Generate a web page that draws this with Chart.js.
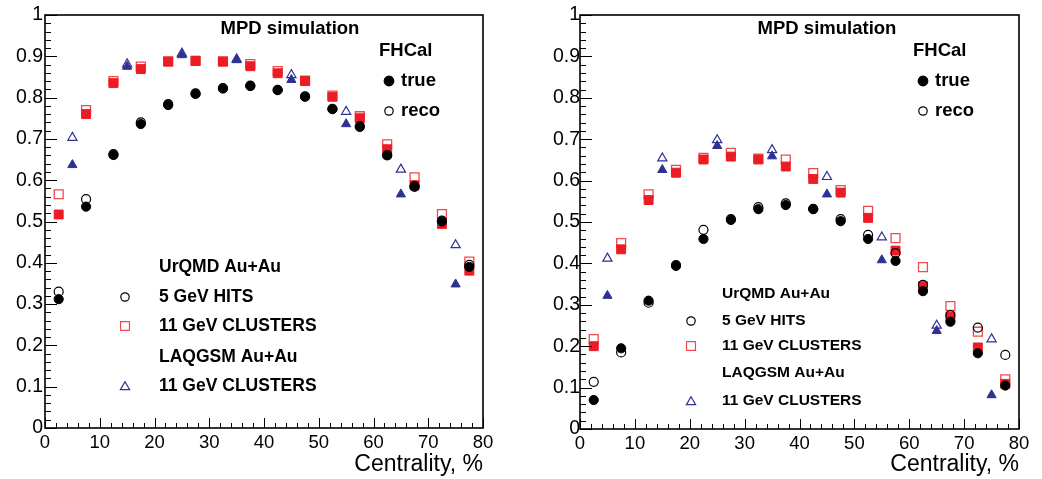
<!DOCTYPE html>
<html>
<head>
<meta charset="utf-8">
<script src="https://cdn.jsdelivr.net/npm/chart.js@4"></script>
<style>
  html, body { margin: 0; padding: 0; background: #fff; }
  body { width: 1042px; height: 479px; position: relative; overflow: hidden; }
  canvas { position: absolute; top: 0; }
  #left { left: 0; }
  #right { left: 520px; }
</style>
</head>
<body>
<canvas id="left" width="520" height="479"></canvas>
<canvas id="right" width="522" height="479"></canvas>
<script>
// centrality bins
const xHits = [2.5, 7.5, 12.5, 17.5, 22.5, 27.5, 32.5, 37.5, 42.5, 47.5, 52.5, 57.5, 62.5, 67.5, 72.5, 77.5];
const xLaq = [5, 15, 25, 35, 45, 55, 65, 75];

// left panel
const leftHitsTrue = [0.312, 0.536, 0.661, 0.736, 0.782, 0.809, 0.822, 0.828, 0.818, 0.802, 0.772, 0.729, 0.661, 0.586, 0.500, 0.390];
const leftHitsReco = [0.330, 0.554, 0.663, 0.740, 0.784, 0.810, 0.823, 0.829, 0.819, 0.803, 0.773, 0.731, 0.660, 0.584, 0.502, 0.395];
const leftClusTrue = [0.517, 0.760, 0.835, 0.869, 0.887, 0.889, 0.887, 0.876, 0.859, 0.840, 0.802, 0.750, 0.675, 0.588, 0.494, 0.381];
const leftClusReco = [0.566, 0.770, 0.840, 0.875, 0.888, 0.889, 0.888, 0.881, 0.864, 0.841, 0.805, 0.755, 0.687, 0.607, 0.518, 0.403];
const leftLaqTrue = [0.637, 0.875, 0.903, 0.891, 0.843, 0.736, 0.566, 0.348];
const leftLaqReco = [0.703, 0.881, 0.907, 0.893, 0.855, 0.766, 0.626, 0.443];

// right panel
const rightHitsTrue = [0.070, 0.195, 0.310, 0.394, 0.459, 0.505, 0.531, 0.541, 0.531, 0.502, 0.459, 0.406, 0.333, 0.259, 0.183, 0.105];
const rightHitsReco = [0.114, 0.185, 0.305, 0.396, 0.481, 0.507, 0.536, 0.545, 0.532, 0.507, 0.469, 0.425, 0.348, 0.275, 0.245, 0.179];
const rightClusTrue = [0.200, 0.434, 0.553, 0.619, 0.651, 0.658, 0.651, 0.634, 0.604, 0.571, 0.510, 0.431, 0.345, 0.271, 0.197, 0.109];
const rightClusReco = [0.217, 0.449, 0.567, 0.626, 0.655, 0.667, 0.653, 0.651, 0.618, 0.577, 0.527, 0.461, 0.391, 0.297, 0.235, 0.120];
const rightLaqTrue = [0.322, 0.626, 0.684, 0.659, 0.567, 0.408, 0.237, 0.082];
const rightLaqReco = [0.412, 0.654, 0.698, 0.674, 0.609, 0.463, 0.250, 0.217];

const legendRows = ['UrQMD Au+Au', '5 GeV HITS', '11 GeV CLUSTERS', 'LAQGSM Au+Au', '11 GeV CLUSTERS'];

const RED = '#ed1c24';
const RED_OPEN = '#ef4a4f';
const BLUE = '#2e3192';
const FONT = '"Liberation Sans", Arial, Helvetica, sans-serif';

function pts(xs, ys) {
  return xs.map((x, i) => ({ x: x, y: ys[i] }));
}

// ROOT-like frame with inward ticks on left and bottom axes
const frameTicks = {
  id: 'frameTicks',
  afterDraw(chart) {
    const { ctx, chartArea: a, scales: { x, y } } = chart;
    ctx.save();
    ctx.strokeStyle = '#000';
    ctx.lineWidth = 1;
    ctx.beginPath();
    for (let i = 0; i <= 50; i++) {
      const py = Math.round(y.getPixelForValue(i * 0.02)) + 0.5;
      const len = i % 5 === 0 ? 12 : 6;
      ctx.moveTo(a.left, py);
      ctx.lineTo(a.left + len, py);
    }
    for (let i = 0; i <= 40; i++) {
      const px = Math.round(x.getPixelForValue(i * 2)) + 0.5;
      const len = i % 5 === 0 ? 10 : 5;
      ctx.moveTo(px, a.bottom);
      ctx.lineTo(px, a.bottom - len);
    }
    ctx.stroke();
    ctx.lineWidth = 1.6;
    ctx.strokeRect(a.left, a.top, a.right - a.left, a.bottom - a.top);
    ctx.restore();
  }
};

function marker(ctx, style, x, y, r, fill, stroke) {
  const opts = { pointStyle: style, radius: r, borderWidth: 1.2, rotation: 0 };
  ctx.save();
  ctx.fillStyle = fill || 'rgba(0,0,0,0)';
  ctx.strokeStyle = stroke;
  ctx.lineWidth = 1.2;
  Chart.helpers.drawPoint(ctx, opts, x, y);
  ctx.restore();
}

// annotation texts and legend entries
const annotations = {
  id: 'annotations',
  afterDraw(chart) {
    const t = chart.options.plugins.annotations;
    const ctx = chart.ctx;
    ctx.save();
    ctx.fillStyle = '#000';
    ctx.textBaseline = 'middle';
    ctx.font = 'bold ' + t.topSize + 'px ' + FONT;
    ctx.textAlign = 'center';
    ctx.fillText('MPD simulation', t.mpdX, 29);
    ctx.textAlign = 'left';
    ctx.fillText('FHCal', t.fhX, 51);
    ctx.fillText('true', t.trueX + 12, 81);
    ctx.fillText('reco', t.trueX + 12, 111);
    marker(ctx, 'circle', t.trueX, 81, 4.8, '#000', '#000');
    marker(ctx, 'circle', t.trueX, 111, 4.2, null, '#000');

    ctx.font = 'bold ' + t.legSize + 'px ' + FONT;
    legendRows.forEach((s, i) => ctx.fillText(s, t.legTextX, t.legY[i]));
    marker(ctx, 'circle', t.legMarkX, t.legY[1], 4.2, null, '#000');
    marker(ctx, 'rect', t.legMarkX, t.legY[2], 6.3, null, RED_OPEN);
    marker(ctx, 'triangle', t.legMarkX, t.legY[4] + 1, 5.3, null, BLUE);
    ctx.restore();
  }
};

function makeChart(id, d, geo) {
  return new Chart(document.getElementById(id), {
    type: 'scatter',
    data: {
      datasets: [
        { label: 'UrQMD 5 GeV HITS true', data: pts(xHits, d.hitsTrue), pointStyle: 'circle', pointRadius: 4.6,
          backgroundColor: '#000', borderColor: '#000', borderWidth: 1 },
        { label: 'UrQMD 5 GeV HITS reco', data: pts(xHits, d.hitsReco), pointStyle: 'circle', pointRadius: 4.5,
          backgroundColor: 'rgba(0,0,0,0)', borderColor: '#000', borderWidth: 1.2 },
        { label: 'UrQMD 11 GeV CLUSTERS true', data: pts(xHits, d.clusTrue), pointStyle: 'rect', pointRadius: 6.3,
          backgroundColor: RED, borderColor: RED, borderWidth: 1 },
        { label: 'UrQMD 11 GeV CLUSTERS reco', data: pts(xHits, d.clusReco), pointStyle: 'rect', pointRadius: 6.3,
          backgroundColor: 'rgba(0,0,0,0)', borderColor: RED_OPEN, borderWidth: 1.3 },
        { label: 'LAQGSM 11 GeV CLUSTERS true', data: pts(xLaq, d.laqTrue), pointStyle: 'triangle', pointRadius: 5.3,
          backgroundColor: BLUE, borderColor: BLUE, borderWidth: 1 },
        { label: 'LAQGSM 11 GeV CLUSTERS reco', data: pts(xLaq, d.laqReco), pointStyle: 'triangle', pointRadius: 5.3,
          backgroundColor: 'rgba(0,0,0,0)', borderColor: BLUE, borderWidth: 1.2 }
      ]
    },
    options: {
      responsive: false,
      animation: false,
      devicePixelRatio: 1,
      layout: { padding: { top: 15, right: geo.padRight, left: 0, bottom: 0 } },
      plugins: {
        legend: { display: false },
        tooltip: { enabled: false },
        annotations: geo
      },
      scales: {
        x: {
          type: 'linear', min: 0, max: 80,
          grid: { display: false, drawTicks: false },
          border: { display: false },
          ticks: { stepSize: 10, color: '#000', padding: 4, font: { family: FONT, size: 18.5 } },
          title: { display: true, text: 'Centrality, %', align: 'end', color: '#000',
                   font: { family: FONT, size: 23 }, padding: { top: 0, bottom: 1 } },
          afterFit: s => { s.height = geo.xHeight; }
        },
        y: {
          type: 'linear', min: 0, max: 1,
          grid: { display: false, drawTicks: false },
          border: { display: false },
          ticks: { stepSize: 0.1, color: '#000', padding: geo.yPad, font: { family: FONT, size: 19.5 },
                   callback: v => String(+v.toFixed(1)) },
          afterFit: s => { s.width = geo.yWidth; }
        }
      }
    },
    plugins: [frameTicks, annotations]
  });
}

makeChart('left', {
  hitsTrue: leftHitsTrue, hitsReco: leftHitsReco,
  clusTrue: leftClusTrue, clusReco: leftClusReco,
  laqTrue: leftLaqTrue, laqReco: leftLaqReco
}, {
  padRight: 37, yWidth: 45, xHeight: 51, yPad: 2,
  topSize: 18.5, mpdX: 290, fhX: 379, trueX: 389,
  legSize: 17.5, legTextX: 159, legMarkX: 125, legY: [267, 297, 326, 357, 386]
});

makeChart('right', {
  hitsTrue: rightHitsTrue, hitsReco: rightHitsReco,
  clusTrue: rightClusTrue, clusReco: rightClusReco,
  laqTrue: rightLaqTrue, laqReco: rightLaqReco
}, {
  padRight: 23, yWidth: 60, xHeight: 50, yPad: 0,
  topSize: 18.5, mpdX: 307, fhX: 393, trueX: 403,
  legSize: 15.5, legTextX: 202, legMarkX: 171, legY: [294, 321, 346, 373, 401]
});
</script>
</body>
</html>
